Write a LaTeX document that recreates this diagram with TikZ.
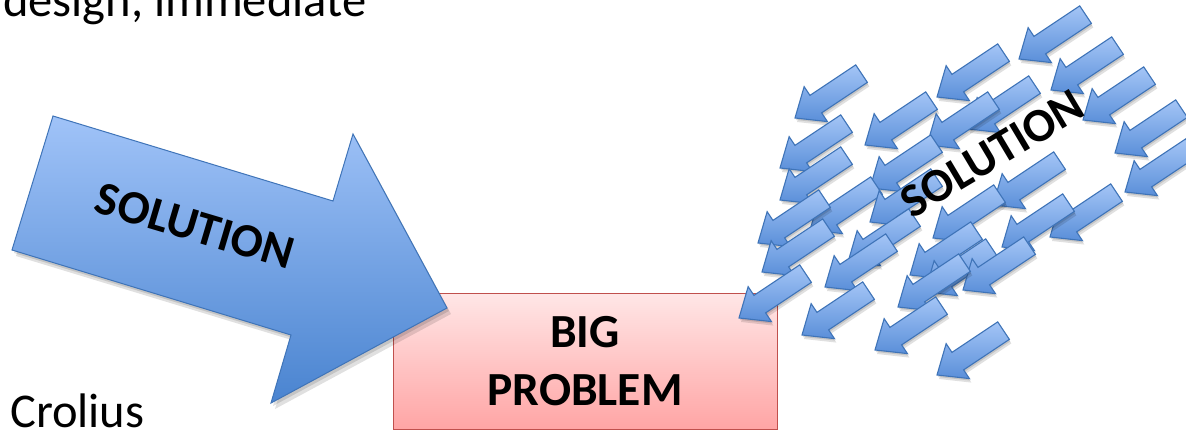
\documentclass[tikz,border=0pt]{standalone}
\usepackage{fontspec}
\setmainfont{Carlito}
\definecolor{arrowtop}{HTML}{A0C3F8}
\definecolor{arrowbot}{HTML}{4A84D0}
\definecolor{arrowline}{HTML}{3F74B8}
\definecolor{smalltop}{HTML}{A4C5F6}
\definecolor{smallbot}{HTML}{5A8FD9}
\definecolor{boxtop}{HTML}{FFE6E6}
\definecolor{boxbot}{HTML}{FFA5A5}
\definecolor{boxline}{HTML}{C0504D}
\tikzset{
 bigarrow/.style={draw=arrowline, line width=1pt, top color=arrowtop, bottom color=arrowbot, line join=miter},
 shadowstyle/.style={fill=black, opacity=0.12},
 smallarrow/.style={draw=arrowline, line width=1.1pt, top color=smalltop, bottom color=smallbot, line join=miter},
 probbox/.style={draw=boxline, line width=1pt, top color=boxtop, bottom color=boxbot, minimum width=384pt, minimum height=135pt, inner sep=0pt},
 bigfont/.style={font=\fontsize{47.5}{57}\selectfont\bfseries, inner sep=0pt},
 plainfont/.style={font=\fontsize{48.5}{58}\selectfont, inner sep=0pt},
}
\newcommand{\arrowpath}{(0,0) -- (-25,21) -- (-25,10.5) -- (-80,10.5) -- (-80,-10.5) -- (-25,-10.5) -- (-25,-21) -- cycle}
\newcommand{\smallarr}[2]{%
  \begin{scope}[shift={(#1+1,-#2-2)}, rotate=213.7]
    \path[shadowstyle] \arrowpath;
  \end{scope}
  \begin{scope}[shift={(#1+2,-#2-4)}, rotate=213.7]
    \path[shadowstyle] \arrowpath;
  \end{scope}
  \begin{scope}[shift={(#1,-#2)}, rotate=213.7]
    \path[smallarrow] \arrowpath;
  \end{scope}}
\begin{document}
\begin{tikzpicture}[x=1pt,y=1pt]
\useasboundingbox[fill=white] (0,0) rectangle (1186,-430);

% top and bottom left texts
\node[plainfont, anchor=base west] (design) at (3,-17) {design, immediate};
\node[plainfont, anchor=base west] (crolius) at (10,-427) {Crolius};

% big problem box
\node[probbox] (prob) at (585,-361.5) {};
\node[bigfont, anchor=base] (big) at (585,-347) {BIG};
\node[bigfont, anchor=base] (problem) at (585,-405) {PROBLEM};

% big arrow
\path[shadowstyle] ([shift={(2,-3)}]53,-116) -- ([shift={(2,-3)}]333,-201) -- ([shift={(2,-3)}]353,-134) -- ([shift={(2,-3)}]447,-308) -- ([shift={(2,-3)}]271,-403) -- ([shift={(2,-3)}]291,-335) -- ([shift={(2,-3)}]12,-250) -- cycle;
\path[shadowstyle] ([shift={(4,-6)}]53,-116) -- ([shift={(4,-6)}]333,-201) -- ([shift={(4,-6)}]353,-134) -- ([shift={(4,-6)}]447,-308) -- ([shift={(4,-6)}]271,-403) -- ([shift={(4,-6)}]291,-335) -- ([shift={(4,-6)}]12,-250) -- cycle;
\path[bigarrow] (53,-116) -- (333,-201) -- (353,-134) -- (447,-308) -- (271,-403) -- (291,-335) -- (12,-250) -- cycle;
\node[bigfont, rotate=-16.6] (sol1) at (195,-226) {SOLUTION};

% small arrows
\foreach \tx/\ty in {
  795/118, 937/97, 1019/59, 1051/90, 1083/120, 968/129, 865/145, 927/145,
  1115/153, 780/168, 1125/192, 870/188, 993/205, 780/200, 810/230, 870/222,
  933/238, 1050/237, 1002/247, 758/243, 848/262, 910/275, 762/272, 825/287,
  925/292, 963/290, 898/307, 739/318, 802/335, 875/350, 937/375} {
  \smallarr{\tx}{\ty}
}
\node[bigfont, rotate=30.8] (sol2) at (992,-154) {SOLUTION};
\end{tikzpicture}
\end{document}
